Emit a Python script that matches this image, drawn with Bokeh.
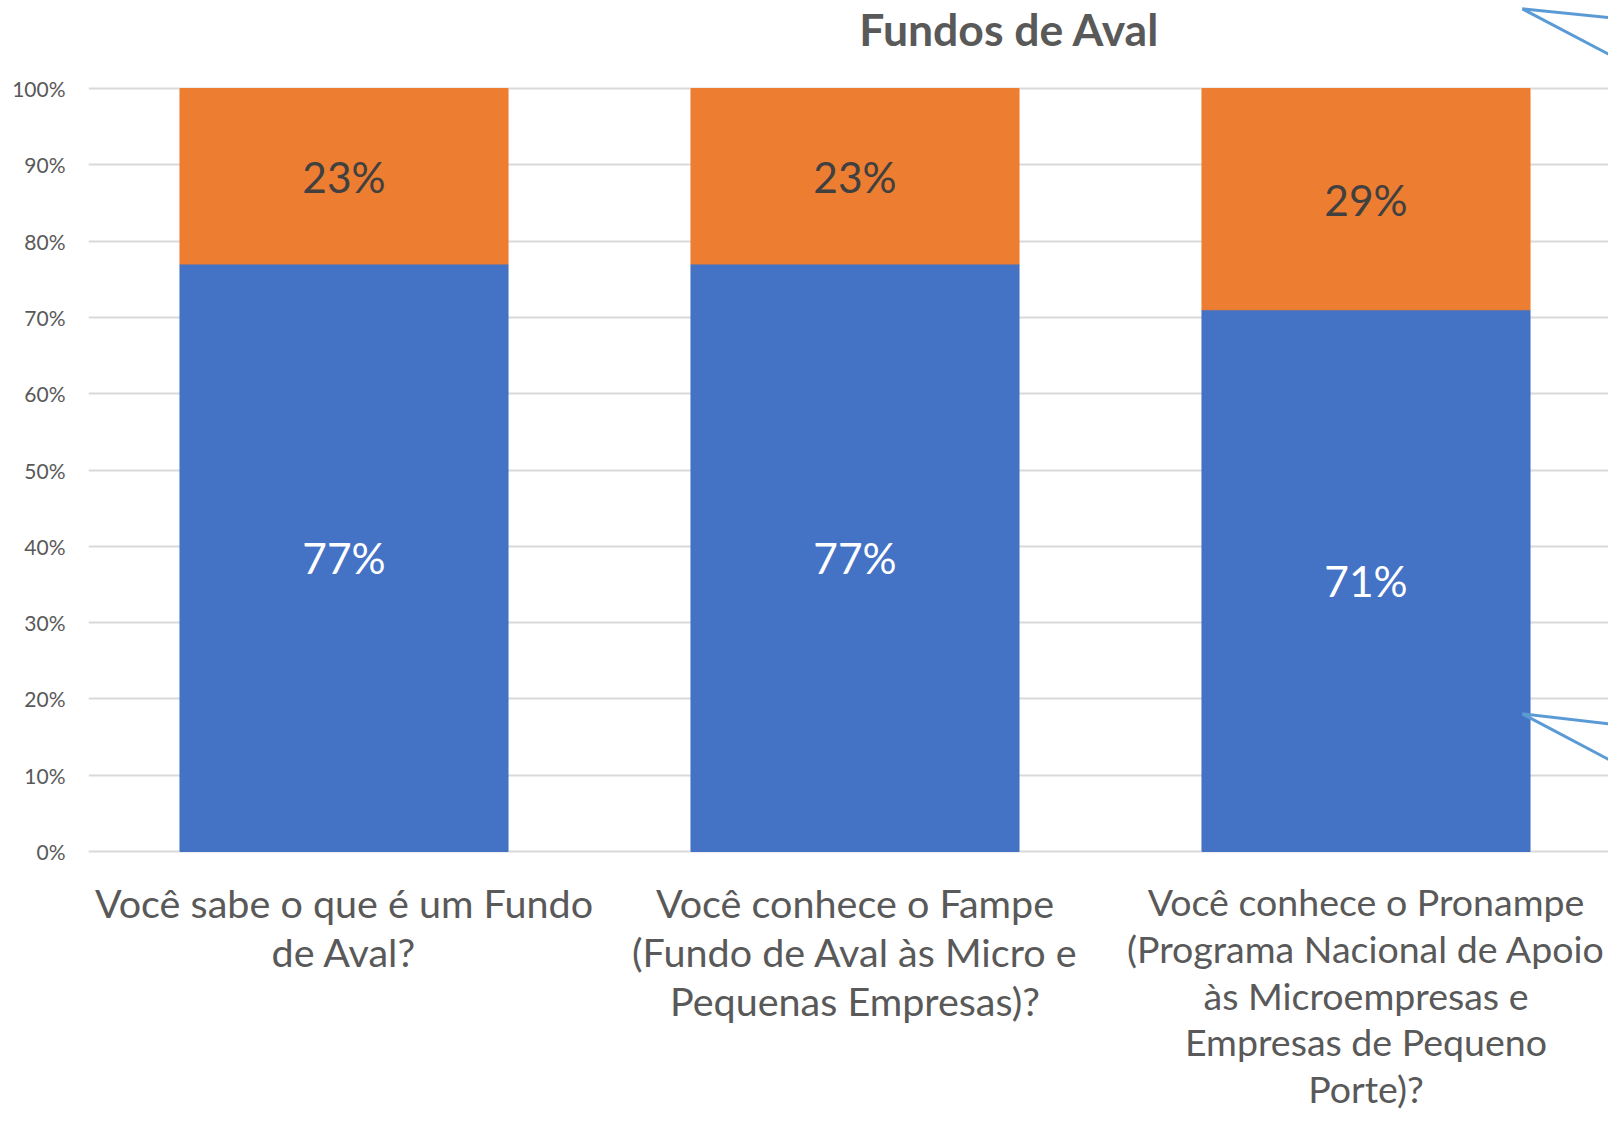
from bokeh.plotting import figure
from bokeh.models import ColumnDataSource, Range1d, FixedTicker
from bokeh.core.properties import value
from bokeh.embed import file_html
from bokeh.resources import INLINE

title_text = "Fundos de Aval"
categories = [
    "Você sabe o que é um Fundo\nde Aval?",
    "Você conhece o Fampe\n(Fundo de Aval às Micro e\nPequenas Empresas)?",
    "Você conhece o Pronampe\n(Programa Nacional de Apoio\nàs Microempresas e\nEmpresas de Pequeno\nPorte)?",
]
blue_values = [77, 77, 71]
orange_values = [23, 23, 29]
y_ticks = [0, 10, 20, 30, 40, 50, 60, 70, 80, 90, 100]
y_tick_labels = ["0%", "10%", "20%", "30%", "40%", "50%", "60%", "70%", "80%", "90%", "100%"]

# decorative leader lines (remnants of callouts at the right edge)
leader_x0 = [2.306, 2.306, 2.306, 2.306]
leader_y0 = [110.44, 110.44, 18.04, 18.04]
leader_x1 = [2.506, 2.506, 2.506, 2.506]
leader_y1 = [109.1, 103.4, 16.5, 10.96]

FONT = "Lato"
BLUE = "#4472C4"
ORANGE = "#ED7D31"
GREY_TXT = "#595959"

xs = list(range(len(categories)))
blue_top = blue_values
orange_bottom = blue_values
orange_top = [b + o for b, o in zip(blue_values, orange_values)]

src = ColumnDataSource(dict(
    x=xs,
    cat=categories,
    cat_size=["39.5px", "39.5px", "37.5px"],
    blue_top=blue_top,
    orange_bottom=orange_bottom,
    orange_top=orange_top,
    blue_mid=[v / 2 for v in blue_top],
    orange_mid=[(b + t) / 2 for b, t in zip(orange_bottom, orange_top)],
    blue_lbl=[f"{v}%" for v in blue_values],
    orange_lbl=[f"{v}%" for v in orange_values],
))

W, H = 1608, 1118
PX = 7.63  # pixels per percentage point
p = figure(width=W, height=H, output_backend="svg", toolbar_location=None,
           x_range=Range1d(-0.5, -0.5 + (W - 88) / 511),
           y_range=Range1d(-(H - 851) / PX, 851 / PX),
           min_border_left=88, min_border_right=0, min_border_top=0, min_border_bottom=0)

p.vbar(x="x", bottom=0, top="blue_top", width=0.642, color=BLUE, source=src)
p.vbar(x="x", bottom="orange_bottom", top="orange_top", width=0.642, color=ORANGE, source=src)

p.text(x="x", y="blue_mid", text="blue_lbl", source=src, text_color="white",
       text_font=value(FONT), text_font_size="42.5px", text_align="center", text_baseline="middle")
p.text(x="x", y="orange_mid", text="orange_lbl", source=src, text_color="#404040",
       text_font=value(FONT), text_font_size="42.5px", text_align="center", text_baseline="middle")

# category labels under the bars
p.text(x="x", y=-3.6, text="cat", source=src, text_color=GREY_TXT,
       text_font=value(FONT), text_font_size="cat_size", text_align="center", text_baseline="top",
       text_line_height=1.04)

# title
p.text(x=[-0.5 + (1009 - 88) / 511], y=[107.86], text=[title_text], text_color=GREY_TXT,
       text_font=value(FONT), text_font_size="44.5px", text_font_style="bold",
       text_align="center", text_baseline="middle")

p.segment(x0=leader_x0, y0=leader_y0, x1=leader_x1, y1=leader_y1,
          line_color="#5B9BD5", line_width=3)

p.xaxis.visible = False
p.xgrid.visible = False
p.ygrid.ticker = FixedTicker(ticks=y_ticks)
p.ygrid.grid_line_color = "#D9D9D9"
p.ygrid.grid_line_width = 2
p.yaxis.ticker = FixedTicker(ticks=y_ticks)
p.yaxis.major_label_overrides = {t: l for t, l in zip(y_ticks, y_tick_labels)}
p.yaxis.axis_line_color = None
p.yaxis.major_tick_line_color = None
p.yaxis.minor_tick_line_color = None
p.yaxis.major_tick_out = 0
p.yaxis.major_label_standoff = 23
p.yaxis.major_label_text_font = FONT
p.yaxis.major_label_text_font_size = "21px"
p.yaxis.major_label_text_color = GREY_TXT
p.outline_line_color = None
p.background_fill_color = "white"
p.border_fill_color = "white"

open("out.html", "w").write(file_html(p, INLINE))
